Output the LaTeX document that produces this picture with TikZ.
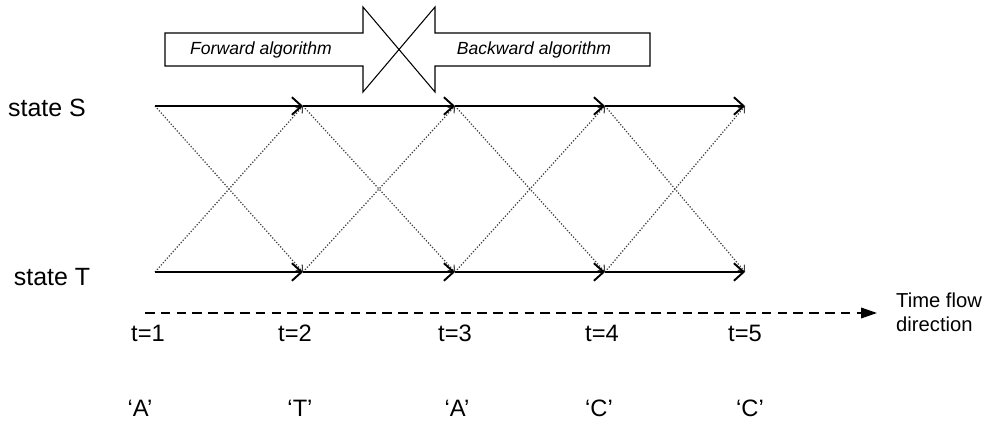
\documentclass[tikz,border=0pt]{standalone}
\usepackage{fontspec}
\setmainfont{Liberation Sans}
\usetikzlibrary{arrows.meta}

\begin{document}
\begin{tikzpicture}[x=0.02cm, y=-0.02cm,
  trans/.style={line width=1.1pt, -{Straight Barb[length=5.5pt,width=10pt,line width=1.1pt]}},
  cross/.style={densely dotted, black!75, line width=0.7pt, -{Straight Barb[length=3pt,width=5pt,line width=0.6pt]}},
  blockarrow/.style={draw, line width=0.6pt, fill=white},
  lbl/.style={font=\fontsize{13.5}{15}\selectfont}]
  \useasboundingbox (0,0) rectangle (987,428);
  % forward / backward block arrows
  \draw[blockarrow] (165,33) -- (363,33) -- (363,7) -- (399,49.5) -- (363,92) -- (363,66) -- (165,66) -- cycle;
  \draw[blockarrow] (650,33) -- (435,33) -- (435,7) -- (399,49.5) -- (435,92) -- (435,66) -- (650,66) -- cycle;
  \node[font=\fontsize{10}{12}\selectfont\itshape] (fwd) at (261,49.5) {Forward algorithm};
  \node[font=\fontsize{10}{12}\selectfont\itshape] (bwd) at (534,49.5) {Backward algorithm};
  % states
  \node[font=\fontsize{14.2}{16}\selectfont] (stS) at (47,108) {state S};
  \node[font=\fontsize{14.2}{16}\selectfont] (stT) at (52,277) {state T};
  \foreach \i/\x in {1/155,2/303,3/455,4/605,5/745} {
    \coordinate (S\i) at (\x,106);
    \coordinate (T\i) at (\x,272);
  }
  \foreach \i/\j in {1/2,2/3,3/4,4/5} {
    \draw[cross] (S\i) -- (T\j);
    \draw[cross] (T\i) -- (S\j);
    \draw[trans] (S\i) -- (S\j);
    \draw[trans] (T\i) -- (T\j);
  }
  % time axis
  \coordinate (tstart) at (145,313);
  \coordinate (tend) at (877,313);
  \draw[dash pattern=on 5.5pt off 3.5pt, line width=0.8pt, -{Triangle[length=9pt,width=6pt]}] (tstart) -- (tend);
  \node[font=\fontsize{11.5}{13.5}\selectfont, align=left, anchor=west] (flow) at (890,312) {Time flow\\direction};
  \foreach \i/\x in {1/148,2/295,3/455,4/602,5/745}
    \node[lbl] (t\i) at (\x,333) {t=\i};
  \foreach \i/\x/\c in {1/140/A,2/300/T,3/457/A,4/599/C,5/750/C}
    \node[lbl] (c\i) at (\x,408) {‘\c’};
\end{tikzpicture}
\end{document}
